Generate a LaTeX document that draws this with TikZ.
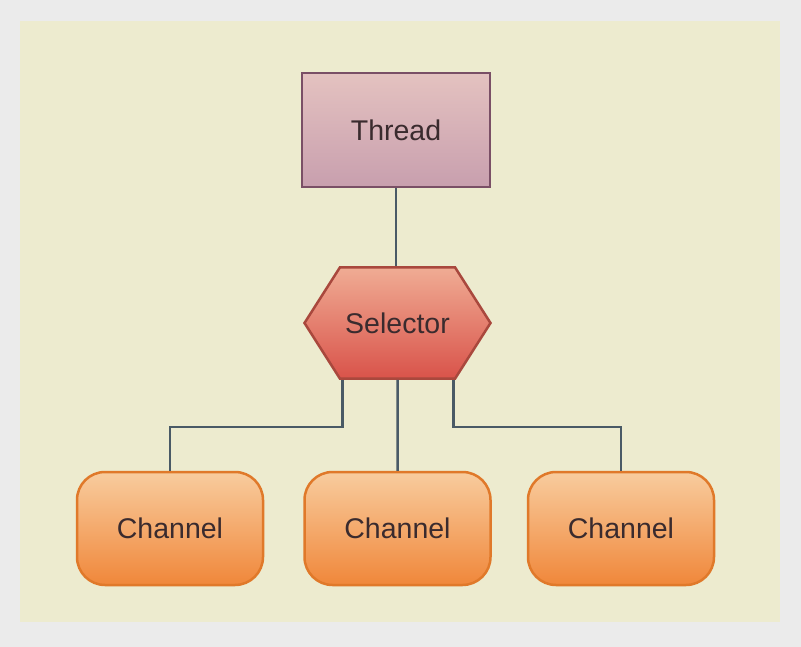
\documentclass[tikz,border=0pt]{standalone}
\usepackage{fontspec}
\setmainfont{Liberation Sans}
\usepackage{xcolor}
\definecolor{sbg}{HTML}{EBEBEB}
\definecolor{spanel}{HTML}{EDEBCF}
\definecolor{sline}{HTML}{4A5A66}
\definecolor{stext}{HTML}{3A2B2E}
\definecolor{thrtop}{HTML}{E4C2C0}
\definecolor{thrbot}{HTML}{C89FAE}
\definecolor{thrdraw}{HTML}{7A4F66}
\definecolor{seltop}{HTML}{F0AC94}
\definecolor{selbot}{HTML}{D9534A}
\definecolor{seldraw}{HTML}{A9483D}
\definecolor{chtop}{HTML}{F8CC9E}
\definecolor{chbot}{HTML}{F0873A}
\definecolor{chdraw}{HTML}{E0792A}
\usepackage{tikz}
\usetikzlibrary{shapes.symbols,positioning,calc}

\begin{document}
\begin{tikzpicture}[x=1pt,y=1pt,font=\fontsize{28.5}{34}\selectfont,
  thr/.style={rectangle,draw=thrdraw,line width=2.5pt,top color=thrtop,bottom color=thrbot,
    text=stext,minimum width=188pt,minimum height=114pt,inner sep=0pt},
  sel/.style={signal,signal to=east and west,signal pointer angle=115,draw=seldraw,line width=2.5pt,
    top color=seltop,bottom color=selbot,text=stext,minimum width=186pt,minimum height=111pt,inner sep=0pt},
  chan/.style={rectangle,rounded corners=28pt,draw=chdraw,line width=2.5pt,top color=chtop,bottom color=chbot,
    text=stext,minimum width=186pt,minimum height=113pt,inner sep=0pt},
  link/.style={draw=sline,line width=2.5pt}]
\useasboundingbox (0,0) rectangle (801,-647);
\fill[sbg] (0,0) rectangle (801,-647);
\fill[spanel] (20,-21) rectangle (780,-622);
% nodes
\node[thr] (thread) at (396,-130) {Thread};
\node[sel,below=78pt of thread,xshift=1.5pt] (selector) {Selector};
\node[chan,below=91pt of selector] (ch2) {Channel};
\node[chan,left=39pt of ch2] (ch1) {Channel};
\node[chan,right=35pt of ch2] (ch3) {Channel};
% links
\draw[link] (thread.south) -- (thread.south |- selector.north);
\draw[link] ([xshift=-55pt]selector.south) -- ++(0,-47) -| (ch1.north);
\draw[link] (selector) -- (ch2);
\draw[link] ([xshift=56pt]selector.south) -- ++(0,-47) -| (ch3.north);
\end{tikzpicture}
\end{document}
